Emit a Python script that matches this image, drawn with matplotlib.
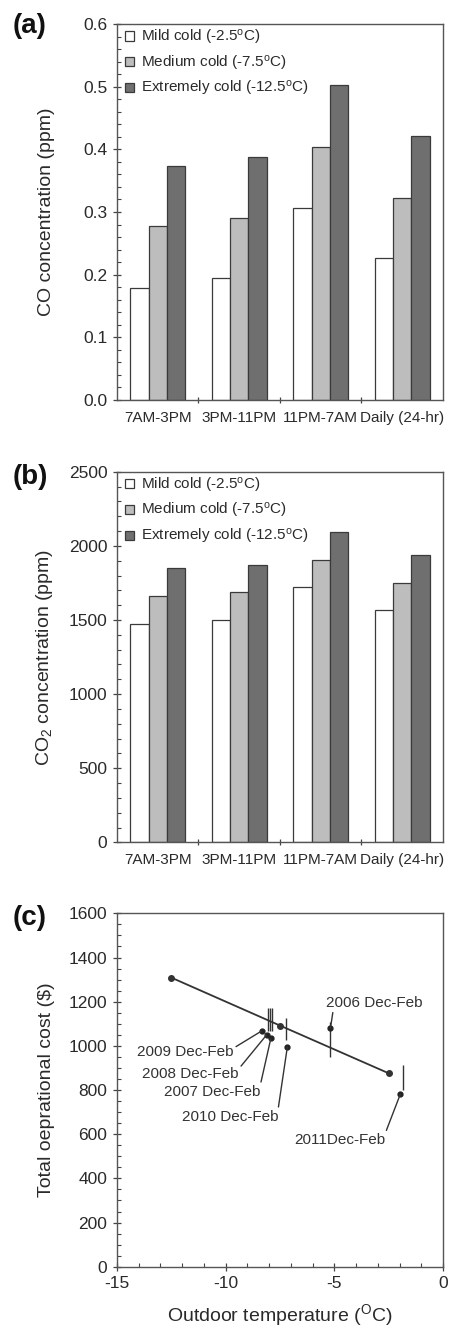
import matplotlib
matplotlib.use("Agg")
import matplotlib.pyplot as plt
import numpy as np
from matplotlib.ticker import MultipleLocator

plt.rcParams['font.family'] = ['Liberation Sans', 'DejaVu Sans']
plt.rcParams['mathtext.fontset'] = 'custom'
plt.rcParams['mathtext.rm'] = 'Liberation Sans'
plt.rcParams['mathtext.it'] = 'Liberation Sans:italic'
plt.rcParams['axes.unicode_minus'] = False
plt.rcParams['text.color'] = '#2a2a2a'
plt.rcParams['axes.labelcolor'] = '#2a2a2a'
plt.rcParams['xtick.color'] = '#444444'
plt.rcParams['ytick.color'] = '#444444'
plt.rcParams['xtick.labelcolor'] = '#2a2a2a'
plt.rcParams['ytick.labelcolor'] = '#2a2a2a'

# ---------------- data ----------------
periods = ['7AM-3PM', '3PM-11PM', '11PM-7AM', 'Daily (24-hr)']
scenarios = [r'Mild cold (-2.5$^{\rm o}$C)',
             r'Medium cold (-7.5$^{\rm o}$C)',
             r'Extremely cold (-12.5$^{\rm o}$C)']
co_mild = [0.178, 0.194, 0.306, 0.226]
co_medium = [0.277, 0.290, 0.404, 0.323]
co_extreme = [0.374, 0.388, 0.502, 0.421]
co2_mild = [1473, 1500, 1722, 1565]
co2_medium = [1664, 1686, 1904, 1751]
co2_extreme = [1848, 1873, 2093, 1938]

scenario_temp = [-12.5, -7.5, -2.5]
scenario_cost = [1309, 1092, 876]

year_labels = ['2006 Dec-Feb', '2007 Dec-Feb', '2008 Dec-Feb',
               '2009 Dec-Feb', '2010 Dec-Feb', '2011Dec-Feb']
year_temp = [-5.18, -7.86, -7.97, -8.07, -7.23, -1.84]
year_cost = [1030, 1118, 1118, 1118, 1077, 857]
year_err = [80, 52, 52, 52, 50, 57]
pointer_temp = [-5.18, -7.92, -8.12, -8.35, -7.16, -1.96]
pointer_cost = [1079, 1034, 1049, 1067, 996, 782]
label_temp = [-3.14, -10.62, -11.64, -11.87, -9.81, -4.75]
label_cost = [1195, 792, 871, 970, 679, 573]
label_relpos = [(0.07, 0.0), (1.0, 1.0), (1.0, 0.85), (1.0, 0.8), (1.0, 1.0), (1.0, 1.0)]

bar_colors = ['#ffffff', '#bdbdbd', '#6f6f6f']
edge = '#3a3a3a'
spine_color = '#555555'

fig = plt.figure(figsize=(4.51, 13.32), dpi=100)
L, W = 0.2594, 0.7228
ax_a = fig.add_axes([L, 0.6997, W, 0.2823])
ax_b = fig.add_axes([L, 0.3676, W, 0.2782])
ax_c = fig.add_axes([L, 0.0490, W, 0.2653])


def style_spines(ax):
    for s in ax.spines.values():
        s.set_color(spine_color)
        s.set_linewidth(1.0)


def bar_panel(ax, series, ylim, major, minor, ylabel, fmt):
    x = np.arange(len(periods))
    w = 0.225
    for i, (vals, col, lab) in enumerate(zip(series, bar_colors, scenarios)):
        ax.bar(x + (i - 1) * w, vals, width=w, color=col, edgecolor=edge,
               linewidth=0.9, label=lab)
    ax.set_xlim(-0.5, len(periods) - 0.5)
    ax.set_ylim(*ylim)
    ax.set_xticks(x)
    ax.set_xticklabels(periods, fontsize=11)
    ax.tick_params(axis='x', which='major', length=0, pad=8)
    ax.set_xticks(x[:-1] + 0.5, minor=True)
    ax.tick_params(axis='x', which='minor', length=5, direction='inout', width=0.9)
    ax.yaxis.set_major_locator(MultipleLocator(major))
    ax.yaxis.set_minor_locator(MultipleLocator(minor))
    ax.yaxis.set_major_formatter(plt.FuncFormatter(fmt))
    ax.tick_params(axis='y', which='major', length=6, direction='inout', width=0.9,
                   labelsize=12.5, pad=4)
    ax.tick_params(axis='y', which='minor', length=3, direction='in', width=0.8)
    ax.set_ylabel(ylabel, fontsize=14)
    ax.yaxis.set_label_coords(-0.19, 0.5)
    style_spines(ax)
    ax.legend(loc='upper left', bbox_to_anchor=(0.025, 0.99), frameon=False,
              fontsize=11, handlelength=0.55, handleheight=0.55,
              handletextpad=0.5, labelspacing=0.45, borderaxespad=0.0,
              borderpad=0.0)


bar_panel(ax_a, [co_mild, co_medium, co_extreme], (0, 0.6), 0.1, 0.02,
          'CO concentration (ppm)', lambda v, p: f'{v:.1f}')
bar_panel(ax_b, [co2_mild, co2_medium, co2_extreme], (0, 2500), 500, 100,
          r'CO$_2$ concentration (ppm)', lambda v, p: f'{v:.0f}')

# ---------------- panel c ----------------
ax = ax_c
ax.plot(scenario_temp, scenario_cost, '-o', color='#333333', lw=1.3, ms=4)
ax.errorbar(year_temp, year_cost, yerr=year_err, fmt='none', ecolor='#333333',
            elinewidth=1.0, capsize=0)
ax.plot(pointer_temp, pointer_cost, 'o', color='#222222', ms=3.5, ls='none')
for lab, tx, ty, px, py, rp in zip(year_labels, label_temp, label_cost,
                                   pointer_temp, pointer_cost, label_relpos):
    ax.annotate(lab, xy=(px, py), xytext=(tx, ty), ha='center', va='center',
                fontsize=11, color='#333333',
                arrowprops=dict(arrowstyle='-', color='#333333', lw=1.0,
                                relpos=rp, shrinkA=0, shrinkB=0))
ax.set_xlim(-15, 0)
ax.set_ylim(0, 1600)
ax.xaxis.set_major_locator(MultipleLocator(5))
ax.xaxis.set_minor_locator(MultipleLocator(1))
ax.yaxis.set_major_locator(MultipleLocator(200))
ax.yaxis.set_minor_locator(MultipleLocator(50))
ax.tick_params(axis='both', which='major', length=6, direction='inout', width=0.9,
               labelsize=12.5)
ax.tick_params(axis='y', which='major', pad=4)
ax.tick_params(axis='x', which='major', pad=4)
ax.tick_params(axis='both', which='minor', length=3, direction='in', width=0.8)
ax.set_ylabel('Total oeprational cost ($)', fontsize=14)
ax.yaxis.set_label_coords(-0.19, 0.5)
ax.set_xlabel(r'Outdoor temperature ($^{\rm O}$C)', fontsize=14, labelpad=8)
style_spines(ax)

# panel letters
for lab, yy in zip(['(a)', '(b)', '(c)'], [26, 477, 918]):
    fig.text(30 / 451, 1 - yy / 1332, lab, fontsize=20, fontweight='bold',
             ha='center', va='center', color='#111111')

fig.savefig('out.png', dpi=100)
